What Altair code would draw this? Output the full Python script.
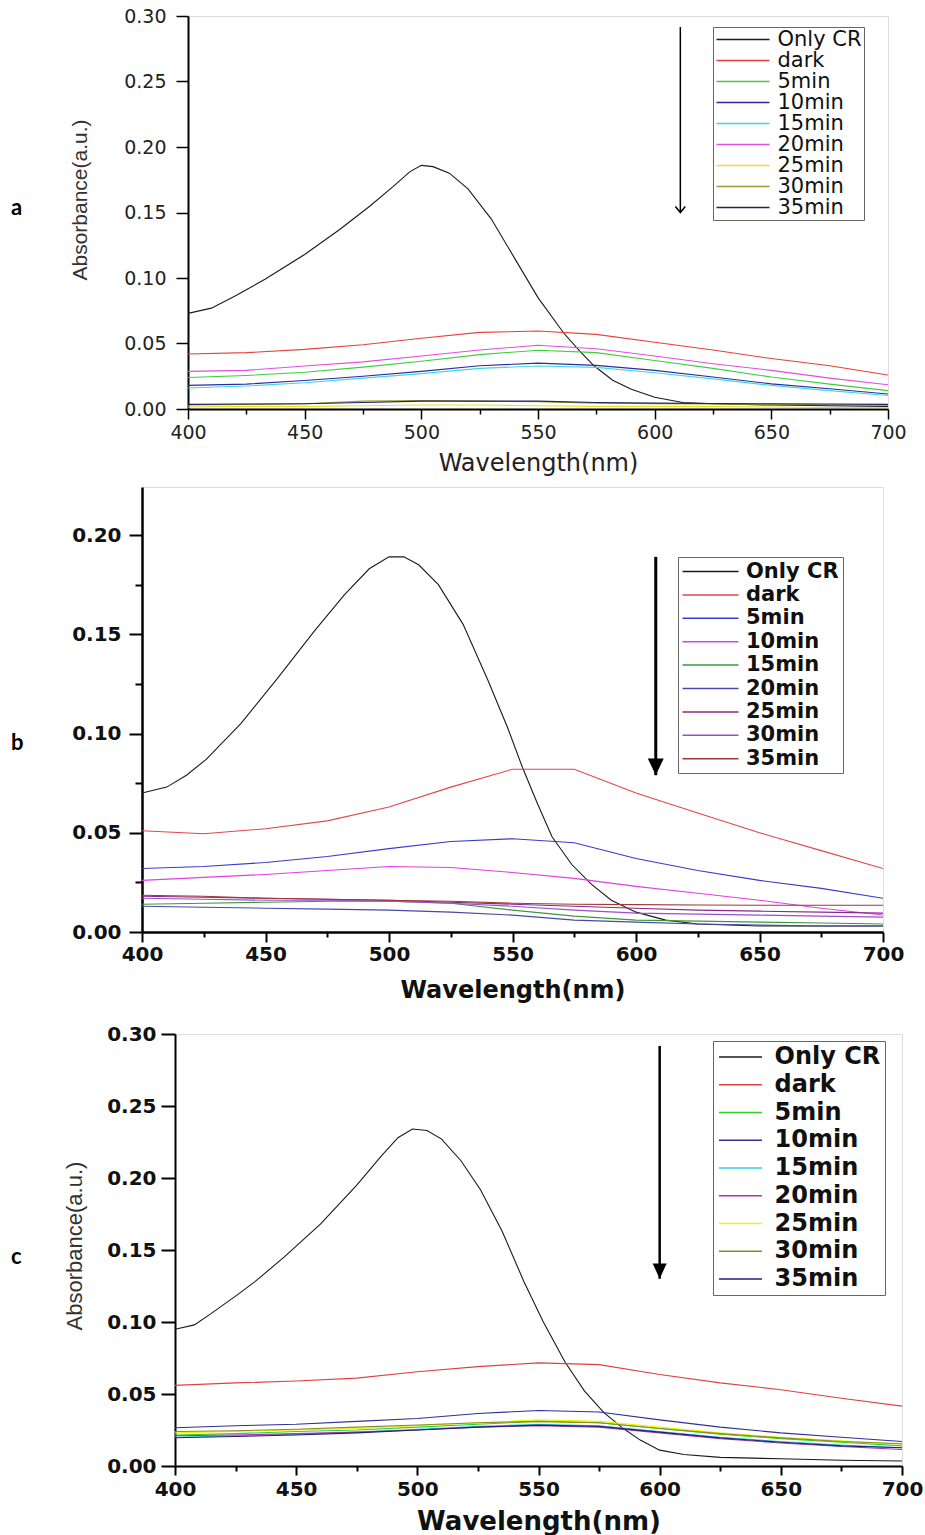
import altair as alt
import pandas as pd

series = ["Only CR", "dark", "5min", "10min", "15min", "20min", "25min", "30min", "35min"]
wl = [400, 425, 450, 475, 500, 525, 550, 575, 600, 625, 650, 675, 700]

# ---------------- panel a ----------------
a_cr_wl = [400, 410, 420, 433, 450, 465, 478, 488, 495, 500, 505, 512, 520, 530, 540, 550, 561, 568, 574, 582, 590, 600, 612, 625, 650, 700]
a_cr = [0.073, 0.077, 0.086, 0.099, 0.118, 0.137, 0.155, 0.170, 0.181, 0.186, 0.185, 0.180, 0.168, 0.145, 0.115, 0.085, 0.058, 0.044, 0.033, 0.022, 0.015, 0.009, 0.005, 0.004, 0.003, 0.002]
a_dark = [0.042, 0.043, 0.0455, 0.049, 0.054, 0.0585, 0.0595, 0.057, 0.051, 0.045, 0.0385, 0.033, 0.026]
a_5 = [0.024, 0.0256, 0.028, 0.032, 0.0364, 0.0415, 0.0449, 0.043, 0.037, 0.031, 0.0244, 0.019, 0.014]
a_10 = [0.018, 0.019, 0.0218, 0.025, 0.0287, 0.033, 0.035, 0.0333, 0.0295, 0.0244, 0.0192, 0.0154, 0.0115]
a_15 = [0.016, 0.0175, 0.020, 0.0236, 0.027, 0.031, 0.0328, 0.0318, 0.0277, 0.023, 0.018, 0.014, 0.0103]
a_20 = [0.0287, 0.0295, 0.0328, 0.036, 0.0405, 0.045, 0.0487, 0.046, 0.0405, 0.0346, 0.0295, 0.0236, 0.0185]
a_25 = [0.0015, 0.002, 0.002, 0.0025, 0.003, 0.003, 0.0025, 0.002, 0.002, 0.0018, 0.0015, 0.0012, 0.001]
a_30 = [0.003, 0.0035, 0.004, 0.006, 0.0065, 0.006, 0.0055, 0.0045, 0.004, 0.0038, 0.0035, 0.0032, 0.003]
a_35 = [0.0035, 0.0038, 0.004, 0.005, 0.006, 0.006, 0.006, 0.005, 0.0045, 0.0042, 0.004, 0.0038, 0.0035]
a_colors = ["#1a1a1a", "#e8403a", "#3ccf3c", "#2b2b9c", "#40d8e0", "#e050e0", "#e8e020", "#9a9a30", "#22225e"]
a_arrow = {"wavelength": [611], "absorbance": [0.2916], "absorbance_end": [0.150]}

# ---------------- panel b ----------------
b_cr_wl = [400, 410, 418, 426, 440, 455, 470, 482, 492, 500, 506, 512, 520, 530, 540, 548, 554, 560, 566, 574, 582, 590, 600, 612, 625, 650, 700]
b_cr = [0.070, 0.073, 0.079, 0.087, 0.105, 0.128, 0.152, 0.170, 0.183, 0.189, 0.189, 0.185, 0.175, 0.155, 0.127, 0.103, 0.083, 0.065, 0.048, 0.034, 0.024, 0.016, 0.010, 0.006, 0.004, 0.003, 0.003]
b_dark = [0.051, 0.0495, 0.052, 0.056, 0.063, 0.073, 0.082, 0.082, 0.070, 0.060, 0.050, 0.041, 0.032]
b_5 = [0.032, 0.033, 0.035, 0.038, 0.042, 0.0456, 0.047, 0.045, 0.037, 0.031, 0.026, 0.022, 0.017]
b_10 = [0.026, 0.0275, 0.029, 0.031, 0.033, 0.0325, 0.030, 0.027, 0.023, 0.0195, 0.016, 0.012, 0.0086]
b_15 = [0.014, 0.0145, 0.015, 0.0155, 0.0155, 0.0145, 0.011, 0.008, 0.006, 0.0055, 0.005, 0.0045, 0.004]
b_20 = [0.013, 0.0125, 0.012, 0.0115, 0.011, 0.010, 0.0085, 0.006, 0.005, 0.004, 0.0035, 0.003, 0.003]
b_25 = [0.018, 0.0175, 0.017, 0.0165, 0.016, 0.015, 0.014, 0.013, 0.012, 0.011, 0.0105, 0.010, 0.0095]
b_30 = [0.017, 0.0165, 0.016, 0.016, 0.0155, 0.0145, 0.013, 0.011, 0.0095, 0.009, 0.0085, 0.008, 0.0075]
b_35 = [0.0185, 0.018, 0.017, 0.0165, 0.016, 0.0155, 0.0145, 0.014, 0.0138, 0.0136, 0.0135, 0.0135, 0.0135]
b_colors = ["#1a1a1a", "#e04848", "#3a3ad0", "#e040e0", "#3a9a3a", "#4848a8", "#882a88", "#9a50c8", "#a03838"]
b_arrow = {"wavelength": [608], "absorbance": [0.189], "absorbance_end": [0.079]}

# ---------------- panel c ----------------
c_cr_wl = [400, 408, 415, 425, 433, 445, 460, 475, 485, 492, 498, 504, 510, 518, 526, 535, 544, 552, 561, 569, 577, 585, 592, 600, 610, 625, 650, 675, 700]
c_cr = [0.095, 0.098, 0.106, 0.118, 0.128, 0.145, 0.168, 0.195, 0.215, 0.228, 0.234, 0.233, 0.227, 0.212, 0.192, 0.163, 0.128, 0.100, 0.072, 0.052, 0.037, 0.026, 0.018, 0.011, 0.008, 0.006, 0.005, 0.004, 0.0035]
c_dark = [0.056, 0.0577, 0.059, 0.061, 0.0654, 0.069, 0.0716, 0.0704, 0.0635, 0.0577, 0.053, 0.047, 0.0416]
c_5 = [0.0215, 0.0225, 0.024, 0.025, 0.027, 0.029, 0.031, 0.030, 0.026, 0.022, 0.019, 0.0165, 0.014]
c_10 = [0.0266, 0.028, 0.029, 0.031, 0.033, 0.0365, 0.0385, 0.0375, 0.032, 0.027, 0.023, 0.020, 0.017]
c_15 = [0.020, 0.021, 0.022, 0.0235, 0.0255, 0.0275, 0.029, 0.028, 0.024, 0.020, 0.017, 0.0145, 0.0127]
c_20 = [0.021, 0.0215, 0.0225, 0.0235, 0.025, 0.027, 0.028, 0.027, 0.023, 0.019, 0.016, 0.0135, 0.0115]
c_25 = [0.023, 0.024, 0.025, 0.026, 0.028, 0.030, 0.032, 0.031, 0.027, 0.023, 0.020, 0.0175, 0.0152]
c_30 = [0.024, 0.0245, 0.0255, 0.027, 0.0285, 0.030, 0.031, 0.030, 0.026, 0.0225, 0.0195, 0.017, 0.0155]
c_35 = [0.0196, 0.0205, 0.0215, 0.023, 0.025, 0.027, 0.0284, 0.0275, 0.0235, 0.0195, 0.0165, 0.014, 0.0127]
c_colors = ["#1a1a1a", "#e04040", "#30d030", "#303098", "#30d0d8", "#b030b0", "#f0f000", "#8a8a20", "#20207a"]
c_arrow = {"wavelength": [600], "absorbance": [0.2917], "absorbance_end": [0.130]}

x_ticks = [400, 425, 450, 475, 500, 525, 550, 575, 600, 625, 650, 675, 700]
y_ticks_30 = [0.0, 0.025, 0.05, 0.075, 0.1, 0.125, 0.15, 0.175, 0.2, 0.225, 0.25, 0.275, 0.3]
y_ticks_20 = [0.0, 0.025, 0.05, 0.075, 0.1, 0.125, 0.15, 0.175, 0.2]

X_MAJOR = "datum.value % 50 === 0"
Y_MAJOR = "round(datum.value * 1000) % 50 === 0"


def long_df(cr_wl, cr, others):
    rows = []
    for w, v in zip(cr_wl, cr):
        rows.append({"series": "Only CR", "wavelength": w, "absorbance": v})
    for name, vals in zip(series[1:], others):
        for w, v in zip(wl, vals):
            rows.append({"series": name, "wavelength": w, "absorbance": v})
    return pd.DataFrame(rows)


def panel(df, colors, ydom, yvals, width, height, st, arrow, letter):
    xaxis = alt.Axis(
        values=x_ticks,
        labelExpr="datum.value % 50 == 0 ? datum.value : ''",
        tickSize={"condition": {"test": X_MAJOR, "value": st["xmaj"]}, "value": st["xmin"]},
        tickWidth=st["tickw"], tickColor="black",
        domainColor="black", domainWidth=st["domw"],
        labelFont="DejaVu Sans", labelFontSize=st["lfs"], labelFontWeight=st["lfw"],
        labelColor=st["lc"], labelPadding=st["xlpad"], labelFlush=False, labelOverlap=False,
        title="Wavelength(nm)", titleFont="DejaVu Sans", titleFontSize=st["xtfs"],
        titleFontWeight=st["xtfw"], titleColor=st["lc"],
        titleX=width / 2, titleY=st["xty"], titleBaseline="middle", titleAlign="center",
        grid=False,
    )
    yaxis = alt.Axis(
        title=None, values=yvals,
        labelExpr="round(datum.value * 1000) % 50 == 0 ? format(datum.value, '.2f') : ''",
        tickSize={"condition": {"test": Y_MAJOR, "value": st["ymaj"]}, "value": st["ymin"]},
        tickWidth=st["tickw"], tickColor="black",
        domainColor="black", domainWidth=st["domw"],
        labelFont="DejaVu Sans", labelFontSize=st["lfs"], labelFontWeight=st["lfw"],
        labelColor=st["lc"], labelPadding=st["ylpad"], labelFlush=False, labelOverlap=False,
        grid=False,
    )

    half = st["symlen"] / 10.0
    legend = alt.Legend(
        title=None, orient="none", legendX=st["legx"], legendY=st["legy"],
        symbolType="M %.3f 0 L %.3f 0" % (-half, half), symbolSize=100,
        symbolOffset=st["symlen"] / 2 - 10 + st["symshift"], symbolStrokeWidth=1.5,
        labelFont="DejaVu Sans", labelFontSize=st["legfs"], labelFontWeight=st["lfw"],
        labelColor="#111", labelOffset=st["laboff"],
        rowPadding=st["legrow"], padding=st["legpad"], strokeColor="#666",
        fillColor="white", labelLimit=0,
    )
    xs = alt.Scale(domain=[400, 700], nice=False, zero=False)
    ys = alt.Scale(domain=ydom, nice=False, zero=False)

    lines = alt.Chart(df).mark_line(strokeWidth=1.1, clip=True).encode(
        x=alt.X("wavelength:Q", scale=xs, axis=xaxis),
        y=alt.Y("absorbance:Q", scale=ys, axis=yaxis),
        color=alt.Color("series:N", scale=alt.Scale(domain=series, range=colors), legend=legend),
    )
    adf = pd.DataFrame(arrow)
    shaft = alt.Chart(adf).mark_rule(color="black", strokeWidth=st["arw"]).encode(
        x="wavelength:Q", y="absorbance:Q", y2="absorbance_end:Q")
    head = alt.Chart(adf).mark_point(
        shape=st["headshape"], size=st["headsize"], filled=st["headfill"],
        color="black", opacity=1, strokeWidth=1.5).encode(
        x="wavelength:Q", y="absorbance_end:Q")
    ldf = pd.DataFrame({"t": [letter]})
    let = alt.Chart(ldf).mark_text(
        font="Lato", fontWeight="bold", fontSize=22, align="left", baseline="alphabetic",
        color="black").encode(text="t:N", x=alt.value(st["letx"]), y=alt.value(st["lety"]))
    layers = [lines, shaft, head, let]
    if st["ytitle"]:
        tdf = pd.DataFrame({"t": ["Absorbance(a.u.)"]})
        yt = alt.Chart(tdf).mark_text(
            font="Liberation Sans", fontSize=st["ytfs"], angle=270, align="center",
            baseline="middle", color="#333").encode(
            text="t:N", x=alt.value(st["ytx"]), y=alt.value(st["yty"]))
        layers.append(yt)
    if st.get("spacer"):
        sp = alt.Chart(ldf).mark_text(text=".", fontSize=10, opacity=0, baseline="bottom").encode(
            x=alt.value(10), y=alt.value(st["spacer"]))
        layers.append(sp)
    return alt.layer(*layers).properties(width=width, height=height)


def row(p):
    pad = alt.Chart(pd.DataFrame({"t": [""]})).mark_text(opacity=0).encode(
        text="t:N").properties(width=1, height=1, view=alt.ViewBackground(stroke="transparent"))
    return alt.hconcat(pad, p, spacing=0).resolve_scale(color="independent")


st_a = dict(xmaj=10, xmin=5, ymaj=12, ymin=6, tickw=1.5, domw=2, lfs=19, lfw="normal",
            lc="#222", xlpad=4, ylpad=10,
            xtfs=24, xtfw="normal", xty=54, ytitle=True, ytfs=21, ytx=-107, yty=184,
            legx=525, legy=11, symlen=53, symshift=1, laboff=24, legfs=21, legrow=-1.3, legpad=2,
            arw=1.5, headshape="M -0.9 -1.1 L 0 0 L 0.9 -1.1", headsize=121, headfill=False,
            letx=11 - 188, lety=199)
st_b = dict(xmaj=10, xmin=5, ymaj=13, ymin=7, tickw=2, domw=2.5, lfs=20, lfw="bold",
            lc="#111", xlpad=2, ylpad=8,
            xtfs=24, xtfw="bold", xty=58, ytitle=False,
            legx=536, legy=70, symlen=56, symshift=0, laboff=25, legfs=21, legrow=1.4, legpad=4,
            arw=3, headshape="M -1 -2.1 L 0 0 L 1 -2.1 Z", headsize=256, headfill=True,
            letx=11 - 142, lety=263, spacer=530)
st_c = dict(xmaj=9, xmin=5, ymaj=14, ymin=7, tickw=2, domw=2, lfs=20, lfw="bold",
            lc="#111", xlpad=4, ylpad=5,
            xtfs=26, xtfw="bold", xty=55, ytitle=True, ytfs=22, ytx=-100, yty=212,
            legx=538, legy=7, symlen=43, symshift=0, laboff=22, legfs=24, legrow=3.75, legpad=4,
            arw=2.5, headshape="M -1 -2.2 L 0 0 L 1 -2.2 Z", headsize=196, headfill=True,
            letx=11 - 175, lety=230)

pa = panel(long_df(a_cr_wl, a_cr, [a_dark, a_5, a_10, a_15, a_20, a_25, a_30, a_35]),
           a_colors, [0, 0.30], y_ticks_30, 700, 393, st_a, a_arrow, "a")
pb = panel(long_df(b_cr_wl, b_cr, [b_dark, b_5, b_10, b_15, b_20, b_25, b_30, b_35]),
           b_colors, [0, 0.2242], y_ticks_20, 741, 445, st_b, b_arrow, "b")
pc = panel(long_df(c_cr_wl, c_cr, [c_dark, c_5, c_10, c_15, c_20, c_25, c_30, c_35]),
           c_colors, [0, 0.30], y_ticks_30, 727, 432, st_c, c_arrow, "c")

chart = alt.vconcat(row(pa), row(pb), row(pc), spacing=5).resolve_scale(
    color="independent").properties(
    padding={"left": 7, "top": 6, "right": 0, "bottom": 0},
).configure_view(stroke="#888", strokeWidth=1).configure(background="white")

chart.save("out.html", embed_options={"renderer": "svg", "actions": False})
